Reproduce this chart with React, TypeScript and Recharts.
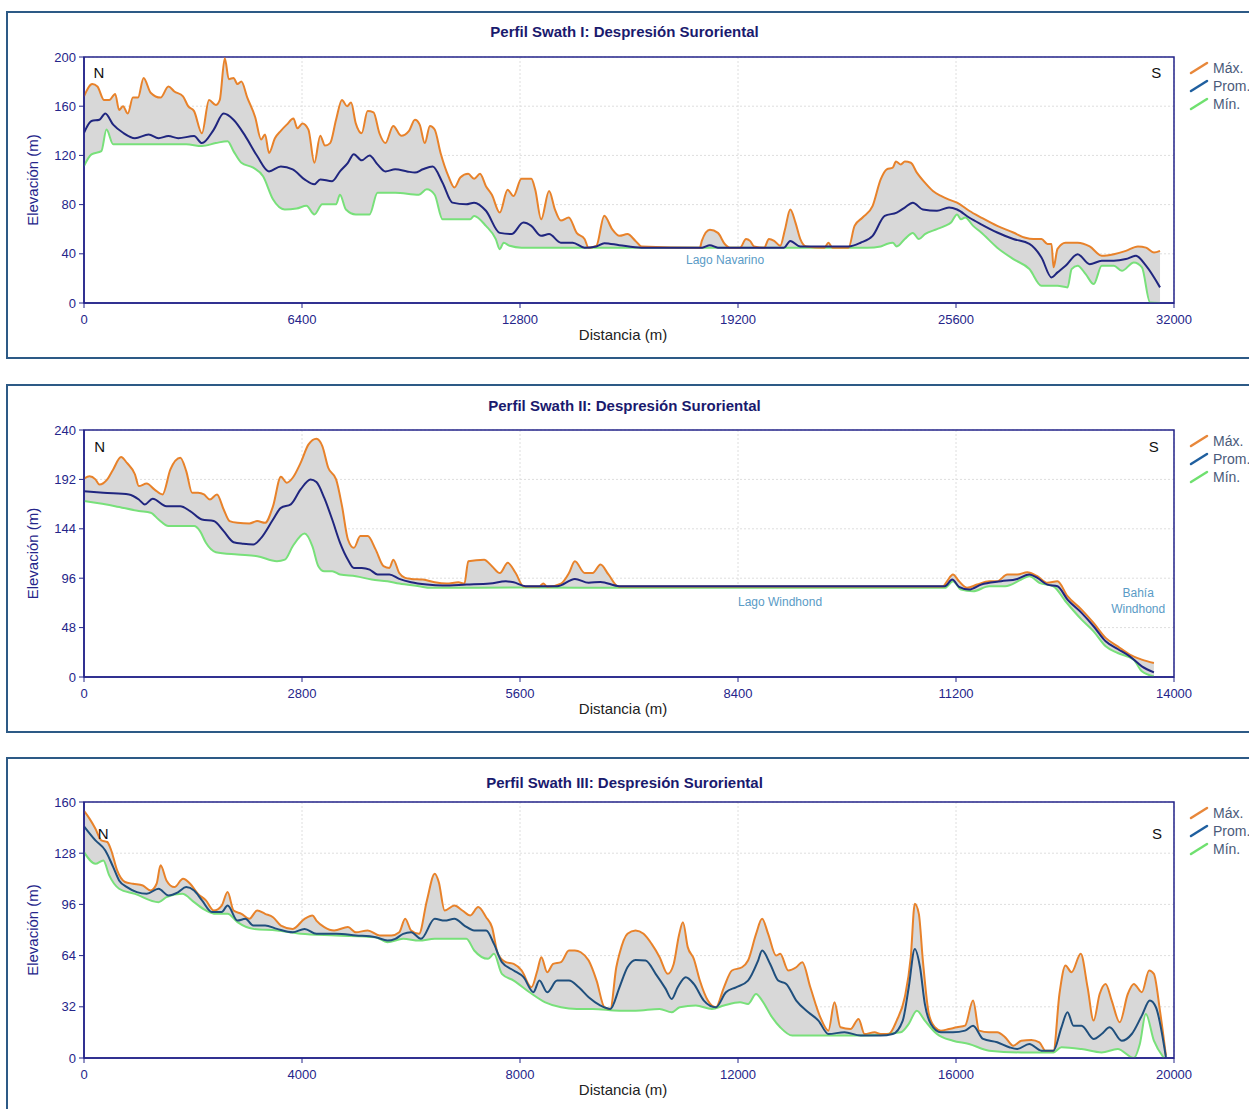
import React from 'react';
import { ComposedChart, Line, Area, XAxis, YAxis, CartesianGrid, ReferenceArea, ReferenceDot } from 'recharts';

type Pt = [number, number];

// ---------- Panel I ----------
const p1XTicks = [0, 6400, 12800, 19200, 25600, 32000];
const p1YTicks = [0, 40, 80, 120, 160, 200];
const p1Max: Pt[] = [[0,168],[243,178],[394,176],[590,165],[741,165],[915,170],[1030,157],[1146,160],[1285,154],[1436,167],[1586,167],[1749,183],[1957,171],[2247,167],[2478,176],[2652,172],[2907,168],[3057,160],[3231,156],[3462,138],[3671,165],[3868,161],[3984,165],[4134,199],[4250,182],[4389,183],[4505,178],[4620,180],[4794,167],[5026,151],[5199,133],[5315,137],[5431,122],[5605,134],[5778,140],[5952,145],[6149,150],[6265,142],[6415,146],[6589,141],[6763,114],[6936,136],[7075,128],[7226,130],[7400,149],[7573,165],[7724,160],[7840,163],[7979,146],[8152,138],[8326,156],[8500,155],[8673,138],[8847,130],[9079,144],[9310,136],[9542,140],[9716,149],[9855,145],[10005,130],[10156,144],[10295,141],[10468,122],[10700,103],[10874,94],[11047,102],[11279,105],[11453,101],[11626,105],[11800,95],[11974,88],[12205,73.5],[12437,92],[12610,87],[12842,101],[13132,101],[13248,92],[13421,68],[13653,91],[13827,76],[14000,67],[14232,69.5],[14463,57],[14695,52],[14811,45],[15042,46.5],[15274,71],[15506,60],[15719,54.6],[15955,56],[16191,50.5],[16368,46],[18079,45],[18138,50.5],[18374,59.5],[18610,57],[18811,48],[18964,45],[19259,45],[19436,52],[19554,50.5],[19672,46],[19967,45],[20109,52],[20262,50.5],[20439,46.5],[20581,60],[20734,76],[20887,65.4],[21029,52],[21206,46],[21737,45],[21855,49],[21973,45],[22445,45],[22622,62.7],[22858,69.5],[23153,79],[23389,100.5],[23566,108.7],[23743,110],[23837,115],[23979,112.7],[24097,115],[24274,114],[24451,106],[24687,97.8],[24923,91],[25159,87],[25395,84],[25631,81.6],[25985,75],[26339,69.5],[26811,62.7],[27283,57.3],[27637,53],[27873,52],[28109,52],[28286,48],[28404,48],[28463,29],[28581,44],[28817,49],[29171,49],[29525,46],[29879,38.4],[30233,39.7],[30587,42.4],[30941,46],[31177,45],[31413,41],[31590,42.4]];
const p1Mean: Pt[] = [[0,138.4],[220,148],[452,149],[625,154],[857,145],[1146,138.4],[1494,134],[1899,137],[2189,134],[2478,135.7],[2768,134],[3231,135.7],[3462,130],[3810,141],[4099,154],[4389,149],[4736,135.7],[5084,119.5],[5431,107],[5778,111],[6126,108.7],[6473,100.5],[6763,96.5],[6936,100.5],[7284,99],[7515,107],[7747,114],[7921,121],[8152,116],[8384,120],[8616,112.7],[8847,107],[9137,108.7],[9484,107],[9716,106],[9947,108.7],[10237,111],[10526,97.8],[10816,81.6],[11221,80.3],[11453,81.6],[11800,75],[12205,57],[12552,56],[12900,65.4],[13132,62.7],[13421,54.6],[13653,56],[14000,49],[14347,49],[14695,45],[15042,46],[15274,48.6],[15714,47],[16368,45],[18150,45],[18374,47],[18610,45],[20550,45],[20734,50.5],[21029,46],[22445,46],[22799,49],[23153,54.6],[23507,70.8],[23861,73.5],[24097,77.6],[24333,81.6],[24628,76],[25041,75],[25395,77.6],[25631,76],[25985,69.5],[26339,64],[26811,57.3],[27283,52],[27755,48],[28109,37],[28404,20.8],[28581,24.9],[28817,30.3],[29171,39.7],[29525,31.6],[29879,34.3],[30233,34.3],[30587,35.7],[30882,38.4],[31177,30.3],[31590,12.7]];
const p1Min: Pt[] = [[0,111.4],[220,120.8],[510,123.5],[660,141],[857,129],[2000,129],[3000,129],[3462,127.6],[3868,130],[4215,131.6],[4389,123.5],[4620,114],[4968,110],[5257,103],[5547,84.3],[5894,76],[6242,76.8],[6531,79],[6763,72],[6994,80.3],[7400,80.3],[7515,88],[7689,76],[7979,72],[8384,72],[8616,89.7],[9137,89.7],[9831,88],[10063,92.4],[10295,88],[10526,68],[11337,68],[11453,70.8],[11800,62.7],[12089,52],[12205,43.8],[12321,49],[12495,46.5],[12842,45],[23000,45],[23389,46],[23566,48],[23743,49],[23861,46],[24097,52],[24333,57],[24510,52],[24687,56],[25041,60],[25277,62.7],[25454,65.4],[25631,72],[25749,68],[25867,69.5],[26103,62.7],[26339,57.3],[26811,45],[27283,35.7],[27755,27.6],[28109,14],[28581,14],[28876,12.7],[28994,27.6],[29171,30.3],[29407,23.5],[29643,15.4],[29879,30.3],[30233,30.3],[30469,26.2],[30823,33],[31059,29],[31295,0.5],[31590,0]];

// ---------- Panel II ----------
const p2XTicks = [0, 2800, 5600, 8400, 11200, 14000];
const p2YTicks = [0, 48, 96, 144, 192, 240];
const p2Max: Pt[] = [[0,192.6],[71,195],[147,192],[198,187],[299,192],[375,201.7],[476,213.7],[552,208],[654,197],[704,185.5],[806,188],[907,182],[1009,177.4],[1110,201.7],[1237,213],[1313,200],[1389,179],[1465,179],[1541,177.4],[1617,172.5],[1708,177.4],[1794,162.8],[1870,151.5],[1971,149.8],[2124,149.2],[2225,151.5],[2326,149.8],[2428,166],[2529,194.6],[2605,188.7],[2681,193.6],[2782,208],[2884,226],[2985,231.5],[3061,224.4],[3137,203.3],[3238,192],[3314,166],[3390,133.6],[3466,125.5],[3549,136.9],[3644,136.9],[3745,124],[3847,107.7],[3923,106],[3973,114],[4049,101],[4125,96.3],[4201,95.3],[4353,94.7],[4505,92],[4657,90.8],[4809,92],[4886,90.8],[4936,112.5],[5139,114],[5240,107.7],[5341,101],[5443,110.9],[5544,101],[5646,88],[5849,88],[5899,90.8],[5950,87.6],[6127,90.8],[6229,101],[6305,112.5],[6431,101],[6533,101],[6634,109.3],[6736,99.6],[6862,88],[11032,88],[11084,93],[11161,99.6],[11239,93],[11342,86.6],[11471,89.8],[11626,93],[11729,93],[11858,99.6],[11987,99.6],[12116,101.8],[12245,97.9],[12374,91.5],[12503,93],[12632,78.5],[12813,65.5],[12967,52.5],[13122,38],[13277,29.8],[13432,21.7],[13587,16.9],[13742,13.6]];
const p2Mean: Pt[] = [[0,180.6],[248,179],[578,177.4],[704,172.5],[780,167.7],[882,173.2],[1059,166],[1237,166],[1363,161.2],[1515,153],[1667,151.5],[1794,141.7],[1921,131],[2047,129.4],[2174,128.7],[2276,135.2],[2428,153],[2529,164.4],[2656,167.7],[2782,182.2],[2909,192],[2985,189.4],[3086,174],[3188,153],[3289,130.4],[3390,114],[3466,106],[3568,106],[3669,104.4],[3771,99.6],[3923,99.6],[4049,95.3],[4201,92],[4404,89.8],[4607,88.9],[4911,89.8],[5215,90.8],[5418,93],[5519,92],[5671,88.2],[6077,88.2],[6305,95.3],[6482,91.5],[6634,92.4],[6877,88.2],[11058,88.2],[11151,94.7],[11239,87.6],[11368,85],[11523,89.8],[11780,93],[11987,95.3],[12142,99.6],[12245,96.3],[12374,89.8],[12503,88.2],[12632,75.2],[12813,62.3],[12967,49.3],[13122,34.7],[13277,27.2],[13432,20.1],[13587,10.4],[13742,4.5]];
const p2Min: Pt[] = [[0,171],[400,166],[704,161.2],[856,159.6],[958,153],[1085,146.6],[1414,146.6],[1490,141.7],[1566,130.4],[1693,121.3],[1971,119],[2225,117.4],[2478,112.5],[2580,114],[2681,127],[2833,139.4],[2934,127],[3010,107.7],[3086,102.8],[3188,102.8],[3289,99.6],[3492,97.9],[3695,94.7],[3897,93],[4049,90.8],[4303,88.2],[4455,86.6],[5671,87],[6877,86.6],[11058,86.6],[11161,93],[11264,85],[11419,83.3],[11626,88.2],[11832,88.2],[12038,94.7],[12142,97.9],[12271,91.5],[12451,88.2],[12606,73.6],[12813,55.8],[12967,44.4],[13122,29.8],[13277,23.3],[13483,16.9],[13587,5.5],[13742,0.6]];

// ---------- Panel III ----------
const p3XTicks = [0, 4000, 8000, 12000, 16000, 20000];
const p3YTicks = [0, 32, 64, 96, 128, 160];
const p3Max: Pt[] = [[0,154.4],[101,149.6],[210,143.3],[319,136],[427,135],[500,129.7],[608,117.2],[753,110],[898,108.9],[1079,107.8],[1224,104.7],[1332,108.9],[1405,120.4],[1513,111],[1658,106.8],[1817,112],[1948,108.9],[2092,102.6],[2237,98.5],[2382,92.2],[2527,95.3],[2635,103.7],[2744,92.2],[2889,90.1],[3034,87],[3178,92.2],[3323,90.1],[3468,88],[3613,82.8],[3830,80.7],[4047,87],[4192,89.1],[4264,85.9],[4409,81.8],[4590,79.7],[4843,81.8],[4988,78.6],[5206,79.7],[5423,76.6],[5640,76.6],[5785,78.6],[5893,87],[6002,79.7],[6147,77.6],[6292,98.5],[6436,115.1],[6509,110],[6617,92.2],[6798,95.3],[6943,92.2],[7088,89.1],[7233,94.3],[7378,88],[7486,81.8],[7595,65.1],[7740,59.9],[7884,58.8],[8029,54.7],[8210,44.2],[8319,54.7],[8391,63],[8500,53.6],[8608,58.8],[8753,59.9],[8898,67.2],[9007,67.2],[9115,66.1],[9260,60.9],[9405,48.4],[9550,31.7],[9658,30.7],[9767,56.7],[9825,65.1],[9972,77.6],[10120,79.7],[10267,77.6],[10415,71.3],[10562,63],[10710,52.6],[10820,58.8],[10916,76.6],[10990,84.9],[11078,69.3],[11189,62],[11300,48.4],[11447,35.9],[11594,31.7],[11742,44.2],[11889,54.7],[12074,56.7],[12184,60.9],[12332,77.6],[12442,87],[12553,77.6],[12700,64],[12774,65.1],[12922,54.7],[13069,56.7],[13180,59.9],[13327,44.2],[13511,25.4],[13659,17.1],[13770,34.8],[13880,19.2],[14064,18.1],[14212,24.4],[14322,15],[14507,16.1],[14617,15],[14765,15],[14912,23.4],[15060,38],[15170,63],[15244,96.4],[15318,90.1],[15392,60.9],[15502,27.5],[15613,19.2],[15723,17.1],[15871,18.1],[16015,19.2],[16166,20.2],[16313,35.9],[16424,17.1],[16608,16.1],[16756,16.1],[16903,12.9],[17051,7.7],[17198,10.8],[17382,11.3],[17530,9.8],[17640,4.6],[17788,4.6],[17898,40],[18009,57.8],[18120,53.6],[18289,65.1],[18414,44.2],[18525,23.4],[18636,40],[18746,46.3],[18857,35.9],[19004,22.3],[19152,40],[19262,46.3],[19410,41.1],[19543,54.7],[19631,52.6],[19742,29.6],[19852,1.5]];
const p3Mean: Pt[] = [[0,144.8],[210,136],[391,129.7],[536,119.3],[644,111],[789,106.8],[970,103.7],[1151,102.6],[1368,105.8],[1549,101.6],[1730,103.7],[1875,106.8],[2020,104.7],[2165,98.5],[2346,91.2],[2527,91.2],[2635,95.3],[2816,85.9],[2961,87],[3106,82.8],[3323,82.8],[3540,80.7],[3830,78.6],[4047,80.7],[4264,77.6],[4626,77.6],[4988,76.6],[5350,75.5],[5568,73.4],[5712,74.5],[5857,77.6],[6002,78.6],[6183,74.5],[6436,87],[6617,85.9],[6798,87],[6979,82.8],[7160,79.7],[7378,79.7],[7522,71.3],[7667,59.9],[7884,54.7],[8065,50.5],[8246,41.1],[8355,48.4],[8500,41.1],[8681,48.4],[8898,48.4],[9079,44.2],[9260,38],[9477,32.8],[9658,30.7],[9825,44.2],[9972,56.7],[10120,61.3],[10304,60.9],[10489,52.6],[10673,43.2],[10784,36.9],[10894,44.2],[11041,50.5],[11189,46.3],[11373,35.9],[11594,31.7],[11779,41.1],[11963,44.2],[12184,48.4],[12369,60.9],[12442,67.2],[12590,58.8],[12737,48.4],[12885,46.3],[13069,35.9],[13290,28.6],[13475,23.4],[13659,15],[13954,16.1],[14249,14],[14617,14],[14839,15],[15023,23.4],[15133,44.2],[15244,68.2],[15340,56.7],[15428,33.8],[15539,21.3],[15723,16.1],[15944,16.1],[16166,17.1],[16313,20.2],[16497,11.9],[16756,9.8],[16977,6.7],[17124,5.6],[17345,8.8],[17566,4.6],[17788,4.6],[17935,19.2],[18046,28.6],[18157,20.2],[18304,20.2],[18525,11.9],[18672,15],[18820,19.2],[19041,10.8],[19225,15],[19410,26.5],[19557,35.9],[19668,31.7],[19852,0.4]];
const p3Min: Pt[] = [[0,128.7],[210,121.4],[355,123.5],[463,114.1],[644,105.8],[934,102.6],[1368,97.4],[1513,100.5],[1803,102.6],[2020,97.4],[2237,92.2],[2418,90.1],[2635,90.1],[2816,84.9],[3106,80.7],[3540,79.7],[3975,77.6],[4626,76.6],[5350,75.5],[5568,72.4],[5857,74.5],[6147,73.4],[6436,74.5],[6798,74.5],[7016,74.5],[7160,67.2],[7414,62],[7522,65.1],[7667,52.6],[7884,48.4],[8174,41.1],[8464,34.8],[8753,31.7],[9043,30.7],[9333,30.7],[9825,29.6],[10120,29.6],[10562,30.7],[10784,28.6],[10931,31.7],[11226,32.8],[11521,30.7],[11742,32.8],[12037,34.8],[12184,33.8],[12332,40],[12442,35.9],[12627,25.4],[12774,19.2],[12995,14],[14249,14],[14986,16.1],[15133,21.3],[15281,29.6],[15428,23.4],[15650,15],[15944,10.8],[16239,8.8],[16608,4.6],[17198,3.5],[17788,3.5],[17935,6.7],[18304,5.6],[18672,3.5],[18967,5.6],[19262,0],[19373,8.8],[19483,27.5],[19631,10.8],[19815,0]];

// ---------- Text ----------
const titles = [
  'Perfil Swath I: Despresión Suroriental',
  'Perfil Swath II: Despresión Suroriental',
  'Perfil Swath III: Despresión Suroriental',
];
const legendNames = ['Máx.', 'Prom.', 'Mín.'];
const legendColors = ['#e8873a', '#1f5f9f', '#6fe06f'];

type Note = { d: number; v: number; text: string; color: string; size: number };

const p1Notes: Note[] = [
  { d: 440, v: 187, text: 'N', color: '#111', size: 15 },
  { d: 31480, v: 187, text: 'S', color: '#111', size: 15 },
  { d: 18820, v: 35, text: 'Lago Navarino', color: '#5a9bc6', size: 12 },
];
const p2Notes: Note[] = [
  { d: 200, v: 223.5, text: 'N', color: '#111', size: 15 },
  { d: 13740, v: 223.5, text: 'S', color: '#111', size: 15 },
  { d: 8940, v: 73, text: 'Lago Windhond', color: '#5a9bc6', size: 12 },
  { d: 13540, v: 82, text: 'Bahía', color: '#5a9bc6', size: 12 },
  { d: 13540, v: 66.5, text: 'Windhond', color: '#5a9bc6', size: 12 },
];
const p3Notes: Note[] = [
  { d: 350, v: 140.5, text: 'N', color: '#111', size: 15 },
  { d: 19690, v: 140.5, text: 'S', color: '#111', size: 15 },
];

const toObj = (a: Pt[]) => a.map(([d, v]) => ({ d, v }));

type Cfg = {
  title: string;
  boxTop: number; boxH: number;
  plotTop: number; plotBottom: number; titleY: number;
  xMax: number; yMax: number; xTicks: number[]; yTicks: number[];
  max: Pt[]; mean: Pt[]; min: Pt[]; meanColor: string; notes: Note[];
};

const panels: Cfg[] = [
  { title: titles[0], boxTop: 11, boxH: 348, plotTop: 57, plotBottom: 303, titleY: 32, xMax: 32000, yMax: 200, xTicks: p1XTicks, yTicks: p1YTicks, max: p1Max, mean: p1Mean, min: p1Min, meanColor: '#20267f', notes: p1Notes },
  { title: titles[1], boxTop: 384, boxH: 349, plotTop: 430, plotBottom: 677, titleY: 406, xMax: 14000, yMax: 240, xTicks: p2XTicks, yTicks: p2YTicks, max: p2Max, mean: p2Mean, min: p2Min, meanColor: '#20267f', notes: p2Notes },
  { title: titles[2], boxTop: 757, boxH: 370, plotTop: 802, plotBottom: 1058, titleY: 783, xMax: 20000, yMax: 160, xTicks: p3XTicks, yTicks: p3YTicks, max: p3Max, mean: p3Mean, min: p3Min, meanColor: '#1f4f7d', notes: p3Notes },
];

const FONT = '"Liberation Sans", Arial, sans-serif';
const NAVY = '#25258a';
const W = 1249;
const CURVE = 'monotone' as const;

function Panel({ c }: { c: Cfg }) {
  const chartTop = c.boxTop;
  const chartH = c.boxH;
  const xAxisH = 45;
  const mTop = c.plotTop - chartTop;
  const mBottom = chartH - (c.plotBottom - chartTop) - xAxisH;
  const yAxisW = 75;
  const mLeft = 84 - yAxisW;
  const mRight = W - 1174;
  return (
    <>
      <div style={{ position: 'absolute', left: 6, top: c.boxTop, width: 1300, height: c.boxH, border: '2px solid #2d5a86', boxSizing: 'border-box' }} />
      <div style={{ position: 'absolute', left: 0, top: c.titleY - 10, width: W, textAlign: 'center', fontFamily: FONT, fontWeight: 'bold', fontSize: 15, lineHeight: '20px', color: '#1a1a6e' }}>{c.title}</div>
      <div style={{ position: 'absolute', left: 0, top: chartTop, width: W, height: chartH }}>
        <ComposedChart width={W} height={chartH} margin={{ top: mTop, right: mRight, bottom: mBottom, left: mLeft }}>
          <XAxis dataKey="d" type="number" domain={[0, c.xMax]} ticks={c.xTicks} interval={0} allowDataOverflow
            height={xAxisH} tickSize={5} tickMargin={7}
            tick={{ fill: NAVY, fontSize: 13, fontFamily: FONT }}
            axisLine={{ stroke: NAVY, strokeWidth: 1.5 }} tickLine={{ stroke: NAVY }}
            label={{ value: 'Distancia (m)', position: 'insideBottom', offset: 8, dx: -6, fill: '#222', fontSize: 15, fontFamily: FONT }} />
          <YAxis type="number" domain={[0, c.yMax]} ticks={c.yTicks} interval={0} allowDataOverflow width={yAxisW}
            tickSize={5} tickMargin={3}
            tick={{ fill: NAVY, fontSize: 13, fontFamily: FONT }}
            axisLine={{ stroke: NAVY, strokeWidth: 1.5 }} tickLine={{ stroke: NAVY }}
            label={{ value: 'Elevación (m)', angle: -90, position: 'insideLeft', offset: 24, fill: NAVY, fontSize: 15, fontFamily: FONT, style: { textAnchor: 'middle' } }} />
          <Area data={toObj(c.max)} dataKey="v" type={CURVE} stroke="none" fill="#d8d8d8" fillOpacity={1} isAnimationActive={false} />
          <Area data={toObj(c.min)} dataKey="v" type={CURVE} stroke="none" fill="#ffffff" fillOpacity={1} isAnimationActive={false} />
          <CartesianGrid stroke="#dedede" strokeDasharray="2 2" horizontalValues={c.yTicks} verticalValues={c.xTicks} />
          <Line data={toObj(c.min)} dataKey="v" type={CURVE} stroke="#78e07a" strokeWidth={2} dot={false} isAnimationActive={false} />
          <Line data={toObj(c.max)} dataKey="v" type={CURVE} stroke="#e8822a" strokeWidth={2} dot={false} isAnimationActive={false} />
          <Line data={toObj(c.mean)} dataKey="v" type={CURVE} stroke={c.meanColor} strokeWidth={2} dot={false} isAnimationActive={false} />
          <ReferenceArea x1={0} x2={c.xMax} y1={0} y2={c.yMax} fill="none" stroke={NAVY} strokeWidth={1.5} ifOverflow="visible" />
          {c.notes.map((n, i) => (
            <ReferenceDot key={i} x={n.d} y={n.v} r={0} fill="none" stroke="none" ifOverflow="visible"
              label={{ value: n.text, position: 'center', fill: n.color, fontSize: n.size, fontFamily: FONT }} />
          ))}
        </ComposedChart>
      </div>
      <div style={{ position: 'absolute', left: 1188, top: c.plotTop + 2, fontFamily: FONT, fontSize: 14, color: '#4a5a7a' }}>
        {legendNames.map((name, i) => (
          <div key={name} style={{ height: 18, display: 'flex', alignItems: 'center', whiteSpace: 'nowrap' }}>
            <svg width={22} height={16} style={{ flex: 'none' }}>
              <line x1={3} y1={13} x2={19} y2={3} stroke={legendColors[i]} strokeWidth={2.5} strokeLinecap="round" />
            </svg>
            <span style={{ marginLeft: 3 }}>{name}</span>
          </div>
        ))}
      </div>
    </>
  );
}

export default function App() {
  return (
    <div style={{ position: 'absolute', left: 0, top: 0, width: W, height: 1109, overflow: 'hidden', background: '#fff' }}>
      {panels.map((c, i) => <Panel key={i} c={c} />)}
    </div>
  );
}
